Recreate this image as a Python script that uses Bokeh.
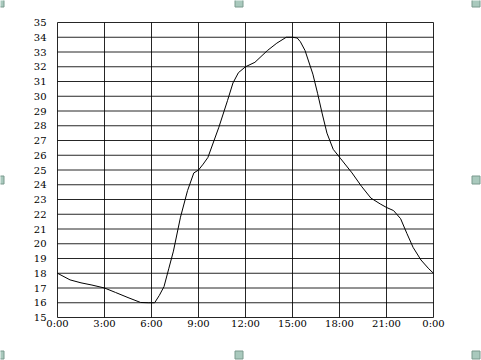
from bokeh.plotting import figure
from bokeh.models import Range1d, FixedTicker
from bokeh.embed import file_html
from bokeh.resources import INLINE

hours = [0, 0.8, 1.5, 2.2, 3, 3.7, 4.5, 5.3, 5.8, 6.2, 6.5, 6.8, 7.1, 7.4, 7.85, 8.3, 8.7, 9.0,
         9.3, 9.6, 10.3, 10.85, 11.2, 11.55, 12.0, 12.6, 13.4, 14.0, 14.6, 15.0, 15.3, 15.5,
         15.8, 16.3, 16.6, 16.9, 17.2, 17.6, 18.05, 18.8, 19.4, 20.0, 20.6, 21.0, 21.45, 21.9,
         22.3, 22.7, 23.2, 23.7, 24]
temps = [18.0, 17.55, 17.35, 17.2, 17.0, 16.7, 16.35, 16.02, 16.0, 16.0, 16.5, 17.1, 18.3, 19.5,
         21.8, 23.6, 24.8, 25.0, 25.4, 25.85, 27.9, 29.7, 30.9, 31.6, 32.0, 32.3, 33.1, 33.6,
         34.0, 34.0, 33.95, 33.7, 33.1, 31.5, 30.2, 28.8, 27.5, 26.4, 25.8, 24.8, 23.9, 23.1,
         22.7, 22.46, 22.25, 21.7, 20.7, 19.75, 18.9, 18.3, 18.0]
x_ticks = [0, 3, 6, 9, 12, 15, 18, 21, 24]
x_labels = ["0:00", "3:00", "6:00", "9:00", "12:00", "15:00", "18:00", "21:00", "0:00"]
y_ticks = list(range(15, 36))

FONT = "DejaVu Serif"
W, H = 481, 360
# pixel box of the chart area inside the picture
BOX_L, BOX_R, BOX_T, BOX_B = 57, 433, 22, 317

x0, x1 = x_ticks[0], x_ticks[-1]
y0, y1 = y_ticks[0], y_ticks[-1]
kx = (BOX_R - BOX_L) / (x1 - x0)
ky = (BOX_B - BOX_T) / (y1 - y0)
xr = Range1d(x0 - BOX_L / kx, x1 + (W - BOX_R) / kx)
yr = Range1d(y0 - (H - BOX_B) / ky, y1 + BOX_T / ky)

p = figure(width=W, height=H, output_backend="svg", toolbar_location=None,
           x_range=xr, y_range=yr,
           min_border_left=0, min_border_right=0, min_border_top=0, min_border_bottom=0)
p.title.visible = False
p.background_fill_color = "white"
p.border_fill_color = "white"
p.outline_line_color = None
p.xgrid.visible = False
p.ygrid.visible = False

p.xaxis.ticker = FixedTicker(ticks=x_ticks)
p.xaxis.major_label_overrides = {t: l for t, l in zip(x_ticks, x_labels)}
p.yaxis.ticker = FixedTicker(ticks=y_ticks)
p.xaxis.fixed_location = y0
p.yaxis.fixed_location = x0
for ax in (p.xaxis[0], p.yaxis[0]):
    ax.axis_line_color = None
    ax.major_tick_line_color = None
    ax.minor_tick_line_color = None
    ax.major_tick_out = 0
    ax.major_tick_in = 0
    ax.major_label_text_font = FONT
    ax.major_label_text_font_size = "10px"
    ax.major_label_text_color = "black"
p.xaxis.major_label_standoff = 0
p.yaxis.major_label_standoff = 11

# grid lines and frame of the chart box
p.segment(x0=x_ticks, y0=[y0] * len(x_ticks), x1=x_ticks, y1=[y1] * len(x_ticks),
          line_color="black", line_alpha=0.85, line_width=1)
p.segment(x0=[x0] * len(y_ticks), y0=y_ticks, x1=[x1] * len(y_ticks), y1=y_ticks,
          line_color="black", line_alpha=0.85, line_width=1)

p.line(hours, temps, line_color="black", line_width=1)

# selection handles around the picture (pixel positions converted to data space)
handle_px = [(-0.5, 2.5), (238.5, 2.5), (475.5, 2.5), (-0.5, 179.5), (475.5, 179.5),
             (-0.5, 354.5), (238.5, 354.5), (475.5, 354.5)]
hx = [xr.start + px / kx for px, _ in handle_px]
hy = [yr.end - py / ky for _, py in handle_px]
p.rect(hx, hy, width=8, height=8, width_units="screen", height_units="screen",
       fill_color="#a9c9bd", line_color="#7a9a8e", line_width=1)

open("out.html", "w").write(file_html(p, INLINE))
